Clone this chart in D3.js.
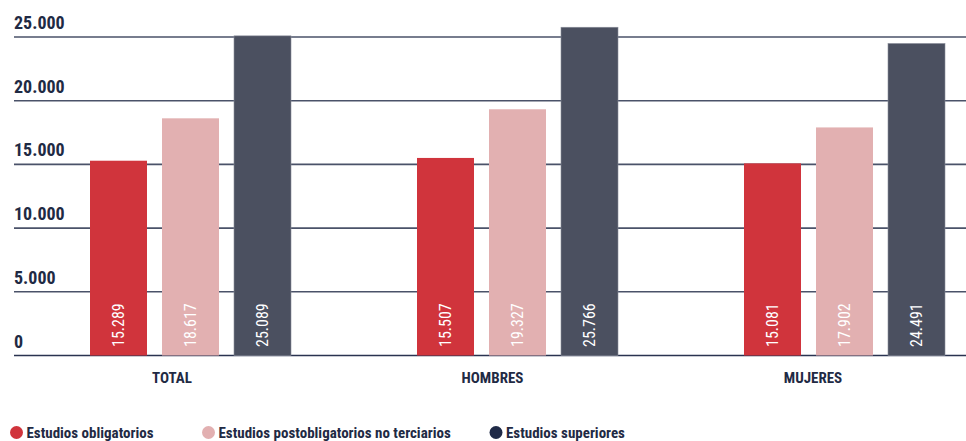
<!DOCTYPE html>
<html>
<head>
<meta charset="utf-8">
<script src="https://cdn.jsdelivr.net/npm/d3@7"></script>
<style>
  html, body { margin: 0; padding: 0; background: #fff; }
  svg { display: block; }
  .cond { font-family: "Liberation Sans Narrow", "Arial Narrow", "Roboto Condensed", sans-serif; }
</style>
</head>
<body>
<svg id="chart" width="966" height="441"></svg>
<script>
const categories = ["TOTAL", "HOMBRES", "MUJERES"];
const seriesNames = ["Estudios obligatorios", "Estudios postobligatorios no terciarios", "Estudios superiores"];
const seriesObligatorios = [15289, 15507, 15081];
const seriesPostobligatorios = [18617, 19327, 17902];
const seriesSuperiores = [25089, 25766, 24491];
const yTicks = [0, 5000, 10000, 15000, 20000, 25000];
const tickLabels = ["0", "5.000", "10.000", "15.000", "20.000", "25.000"];
const valueLabels = [
  ["15.289", "15.507", "15.081"],
  ["18.617", "19.327", "17.902"],
  ["25.089", "25.766", "24.491"]
];

const barColors = ["#d0343c", "#e2b0b1", "#4b5060"];
const legendColors = ["#d0343c", "#e2b0b1", "#1f2a47"];
const textColor = "#1f2a44";

const allSeries = [seriesObligatorios, seriesPostobligatorios, seriesSuperiores];

const svg = d3.select("#chart");

const y = d3.scaleLinear().domain([0, 25000]).range([355.5, 37]);
const x0 = d3.scalePoint().domain(categories).range([90, 744]);
const x1 = d3.scaleBand().domain(d3.range(3)).range([0, 201]).paddingInner(15 / 72).paddingOuter(0);
const xLabel = d3.scalePoint().domain(categories).range([172, 813]);

// gridlines
svg.append("g").selectAll("line").data(yTicks).join("line")
  .attr("x1", 14).attr("x2", 966)
  .attr("y1", d => y(d)).attr("y2", d => y(d))
  .attr("stroke", d => d === 0 ? "#2a3350" : "#4a5269")
  .attr("stroke-width", 1.6);

// tick labels
svg.append("g").selectAll("text").data(yTicks).join("text")
  .attr("class", "cond")
  .attr("x", 14).attr("y", d => y(d) - 8)
  .attr("font-size", 18).attr("font-weight", "bold")
  .attr("fill", textColor)
  .text((d, i) => tickLabels[i]);

// bars
const groups = svg.append("g").selectAll("g").data(categories).join("g")
  .attr("transform", c => `translate(${x0(c)},0)`);

groups.each(function(c, ci) {
  const g = d3.select(this);
  allSeries.forEach((s, si) => {
    const v = s[ci];
    g.append("rect")
      .attr("x", x1(si)).attr("width", x1.bandwidth())
      .attr("y", y(v)).attr("height", y(0) - y(v))
      .attr("fill", barColors[si])
      .attr("stroke", si === 2 ? "#8a8e9a" : "none")
      .attr("stroke-width", 0.6);
    const cx = x1(si) + x1.bandwidth() / 2;
    g.append("text")
      .attr("class", "cond")
      .attr("transform", `translate(${cx + 5.5},${y(0) - 8.5}) rotate(-90)`)
      .attr("font-size", 16)
      .attr("fill", "#ffffff")
      .text(valueLabels[si][ci]);
  });
});

// category labels
svg.append("g").selectAll("text").data(categories).join("text")
  .attr("class", "cond")
  .attr("x", c => xLabel(c)).attr("y", 382.5)
  .attr("text-anchor", "middle")
  .attr("font-size", 15).attr("font-weight", "bold")
  .attr("fill", textColor)
  .text(c => c);

// legend
const legendX = [16.5, 208.5, 496];
const leg = svg.append("g").selectAll("g").data(seriesNames).join("g")
  .attr("transform", (d, i) => `translate(${legendX[i]},432.5)`);
leg.append("circle").attr("r", 6.5).attr("fill", (d, i) => legendColors[i]);
leg.append("text")
  .attr("class", "cond")
  .attr("x", 10).attr("y", 5)
  .attr("font-size", 15).attr("font-weight", "bold")
  .attr("fill", textColor)
  .text(d => d);
</script>
</body>
</html>
